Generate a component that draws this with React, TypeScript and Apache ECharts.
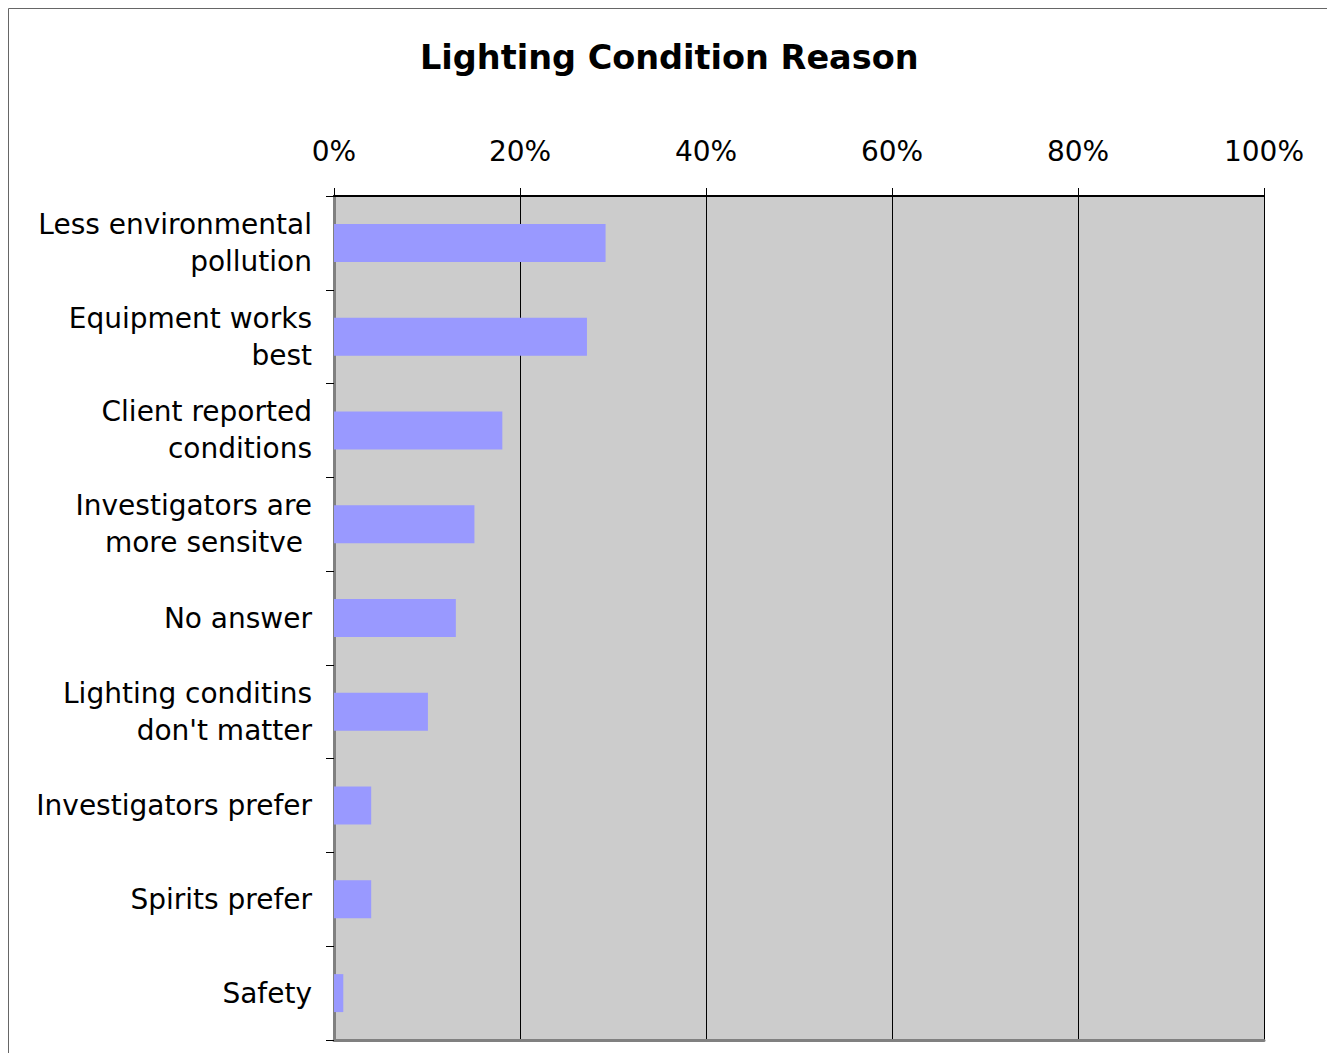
import React, { useEffect, useRef } from "react";
import * as echarts from "echarts";

const categories = [
  "Less environmental\npollution",
  "Equipment works\nbest",
  "Client reported\nconditions",
  "Investigators are\nmore sensitve ",
  "No answer",
  "Lighting conditins\ndon't matter",
  "Investigators prefer",
  "Spirits prefer",
  "Safety",
];
const values = [29.2, 27.2, 18.1, 15.1, 13.1, 10.1, 4.0, 4.0, 1.0];
const xTicks = { min: 0, max: 100, interval: 20 };
const titleText = "Lighting Condition Reason";

export default function App() {
  const ref = useRef<HTMLDivElement>(null);
  useEffect(() => {
    if (!ref.current) return;
    const chart = echarts.init(ref.current, undefined, { renderer: "svg" });
    const font = "DejaVu Sans";
    chart.setOption({
      animation: false,
      backgroundColor: "#ffffff",
      title: {
        text: titleText,
        left: 420,
        top: 40,
        padding: 0,
        textStyle: { fontFamily: font, fontSize: 33.5, fontWeight: "bold", color: "#000" },
      },
      graphic: [
        {
          type: "rect",
          silent: true,
          z: -10,
          shape: { x: 8.5, y: 8.5, width: 1400, height: 1100 },
          style: { fill: "none", stroke: "#666", lineWidth: 1 },
        },
      ],
      grid: { left: 334, top: 196, right: 63, bottom: 13, show: true, backgroundColor: "#cccccc", borderWidth: 0 },
      xAxis: [
        {
          type: "value",
          position: "top",
          min: xTicks.min,
          max: xTicks.max,
          interval: xTicks.interval,
          axisLabel: { formatter: "{value}%", fontFamily: font, fontSize: 28, color: "#000", margin: 31 },
          axisLine: { show: true, lineStyle: { color: "#000", width: 2 } },
          axisTick: { show: true, length: 8, lineStyle: { color: "#000", width: 1 } },
          splitLine: { show: true, lineStyle: { color: "#000", width: 1 } },
        },
        {
          type: "value",
          position: "bottom",
          min: xTicks.min,
          max: xTicks.max,
          interval: xTicks.interval,
          axisLabel: { show: false },
          axisLine: { show: true, lineStyle: { color: "#808080", width: 3 } },
          axisTick: { show: false },
          splitLine: { show: false },
        },
      ],
      yAxis: [
        {
          type: "category",
          inverse: true,
          data: categories,
          axisLabel: {
            interval: 0,
            fontFamily: font,
            fontSize: 28,
            lineHeight: 37,
            color: "#000",
            align: "right",
            margin: 22,
          },
          axisLine: { show: true, lineStyle: { color: "#808080", width: 2 } },
          axisTick: { show: true, length: 8, interval: 0, alignWithLabel: false, lineStyle: { color: "#000", width: 1 } },
          splitLine: { show: false },
        },
        {
          type: "category",
          inverse: true,
          position: "right",
          data: categories,
          axisLabel: { show: false },
          axisLine: { show: true, lineStyle: { color: "#808080", width: 3 } },
          axisTick: { show: false },
          splitLine: { show: false },
        },
      ],
      series: [
        {
          type: "bar",
          xAxisIndex: 0,
          yAxisIndex: 0,
          data: values,
          barWidth: "40.5%",
          itemStyle: { color: "#9999ff" },
        },
      ],
    });
    return () => chart.dispose();
  }, []);
  return <div ref={ref} style={{ position: "absolute", left: 0, top: 0, width: 1327, height: 1053 }} />;
}
